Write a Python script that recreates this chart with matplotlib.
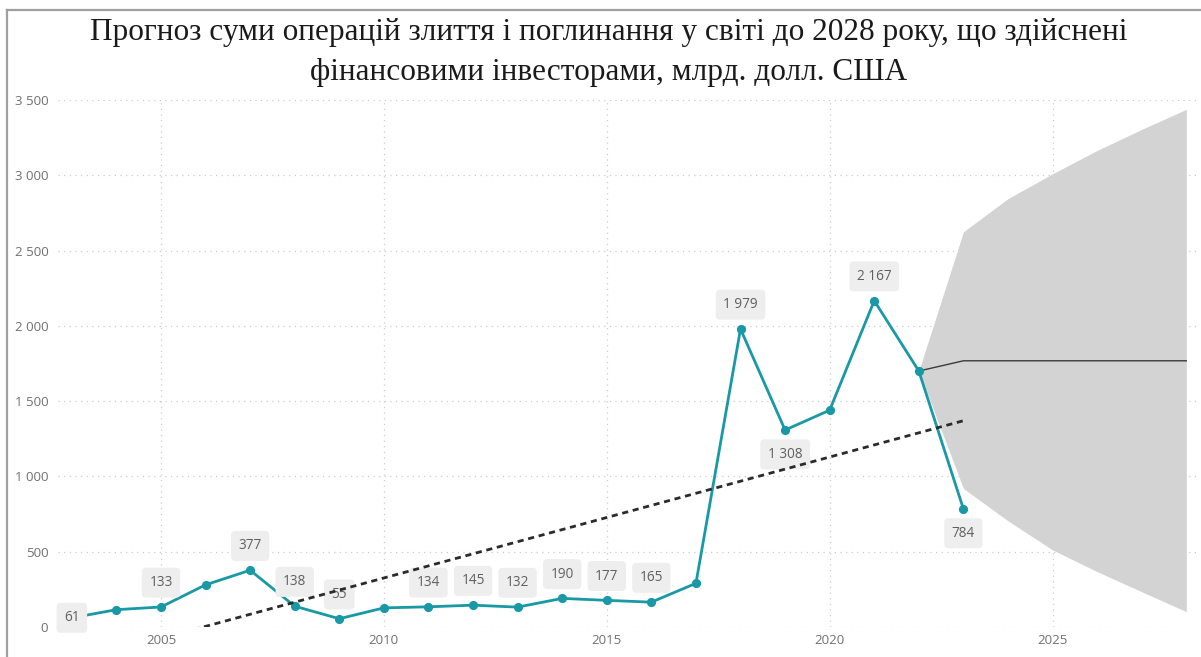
import numpy as np
import matplotlib
matplotlib.use("Agg")
import matplotlib.pyplot as plt
from matplotlib.lines import Line2D

# ---------------- data ----------------
years = [2003, 2004, 2005, 2006, 2007, 2008, 2009, 2010, 2011, 2012, 2013,
         2014, 2015, 2016, 2017, 2018, 2019, 2020, 2021, 2022, 2023]
values = [61, 115, 133, 280, 377, 138, 55, 127, 134, 145, 132,
          190, 177, 165, 290, 1979, 1308, 1440, 2167, 1700, 784]
labeled_years = [2003, 2005, 2007, 2008, 2009, 2011, 2012, 2013, 2014,
                 2015, 2016, 2018, 2019, 2021, 2023]

forecast_years = [2022, 2023, 2024, 2025, 2026, 2027, 2028]
forecast_mid = [1700, 1768, 1768, 1768, 1768, 1768, 1768]
forecast_upper = [1700, 2625, 2845, 3010, 3165, 3305, 3438]
forecast_lower = [1700, 920, 705, 512, 368, 234, 102]

x_ticks = [2005, 2010, 2015, 2020, 2025]
y_ticks = [0, 500, 1000, 1500, 2000, 2500, 3000, 3500]
y_tick_labels = ["0", "500", "1 000", "1 500", "2 000", "2 500", "3 000", "3 500"]

title_line1 = "Прогноз суми операцій злиття і поглинання у світі до 2028 року, що здійснені"
title_line2 = "фінансовими інвесторами, млрд. долл. США"

# ---------------- style ----------------
TEAL = "#1899a5"
W, H = 1201, 657
fig = plt.figure(figsize=(W / 100, H / 100), dpi=100)
ax = fig.add_axes([58 / W, 1 - 627 / H, (1197 - 58) / W, (627 - 100) / H])

ax.set_xlim(2002.69, 2028.24)
ax.set_ylim(0, 3500)

for s in ax.spines.values():
    s.set_visible(False)

ax.set_xticks(x_ticks)
ax.set_yticks(y_ticks)
ax.set_yticklabels(y_tick_labels)
ax.tick_params(axis="both", length=0, labelcolor="#707070", labelsize=9.5)
ax.tick_params(axis="y", pad=7)
ax.tick_params(axis="x", pad=5)
for lab in ax.get_xticklabels() + ax.get_yticklabels():
    lab.set_fontfamily("Open Sans")

ax.grid(True, color="#cccccc", linestyle=(0, (1, 3.5)), linewidth=0.9)
ax.set_axisbelow(True)

# forecast band and line
ax.fill_between(forecast_years, forecast_lower, forecast_upper,
                color="#d3d3d3", linewidth=0, zorder=1)
ax.plot(forecast_years, forecast_mid, color="#3a3a3a", linewidth=1.0, zorder=2)

# main series
ax.plot(years, values, color=TEAL, linewidth=2.0, marker="o",
        markersize=5.6, zorder=4)

# linear trend (least squares of the series)
coef = np.polyfit(years, values, 1)
trend_x = np.array([years[0], years[-1]])
ax.plot(trend_x, np.polyval(coef, trend_x), color="#2b2b2b", linewidth=2.0,
        linestyle=(0, (2.2, 1.7)), zorder=6)

# data labels
placement = {2003: 0, 2019: -1, 2023: -1}
for yr, v in zip(years, values):
    if yr not in labeled_years:
        continue
    p = placement.get(yr, 1)
    txt = f"{v:,}".replace(",", " ")
    ax.annotate(txt, (yr, v), xytext=(0, 17.5 * p), textcoords="offset points",
                ha="center", va="center", fontsize=9.8, color="#606060",
                fontfamily="Open Sans", annotation_clip=False, zorder=5,
                bbox=dict(boxstyle="round,pad=0.55,rounding_size=0.3",
                          fc="#eeeeee", ec="none"))

# title
fig.text(0.507, 1 - 40 / H, title_line1, ha="center", va="baseline",
         fontsize=22.5, fontfamily="Liberation Serif", color="#1a1a1a")
fig.text(0.507, 1 - 80 / H, title_line2, ha="center", va="baseline",
         fontsize=22.5, fontfamily="Liberation Serif", color="#1a1a1a")

# visual frame lines (top and left)
fig.add_artist(Line2D([7 / W, 1.0], [1 - 10 / H, 1 - 10 / H], color="#a0a0a0",
                      linewidth=1.6, transform=fig.transFigure))
fig.add_artist(Line2D([7 / W, 7 / W], [1 - 10 / H, 0.0], color="#a0a0a0",
                      linewidth=1.6, transform=fig.transFigure))

fig.savefig("out.png", dpi=100)
